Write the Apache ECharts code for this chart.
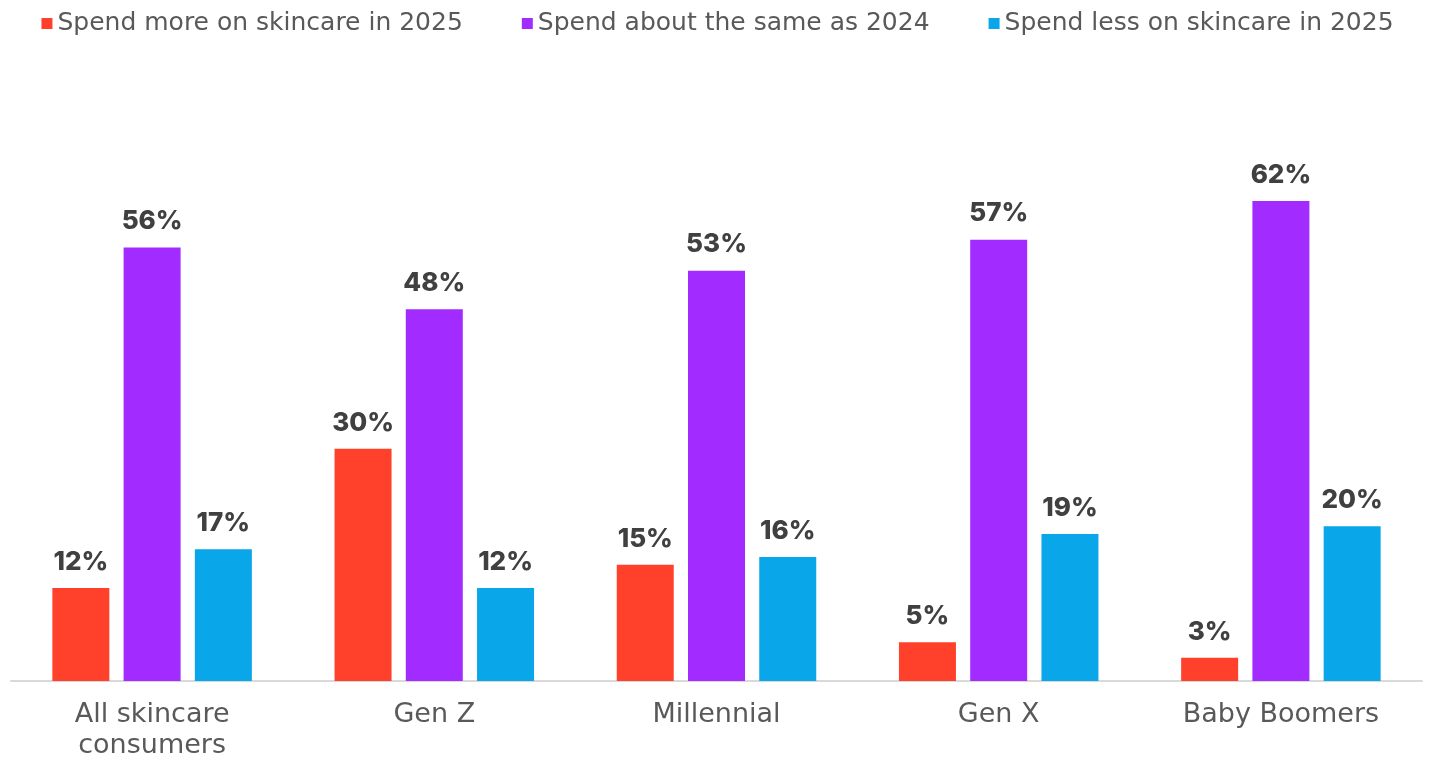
<!DOCTYPE html>
<html>
<head>
<meta charset="utf-8">
<script src="https://cdn.jsdelivr.net/npm/echarts@6/dist/echarts.min.js"></script>
<style>
  html, body { margin: 0; padding: 0; background: #ffffff; }
  #chart { width: 1435px; height: 758px; }
</style>
</head>
<body>
<div id="chart"></div>
<script>
// Age cohorts on the category axis
const categories = ['All skincare\nconsumers', 'Gen Z', 'Millennial', 'Gen X', 'Baby Boomers'];

// Share of consumers (%) by expected 2025 skincare spend
const spendMore = [12, 30, 15, 5, 3];
const spendSame = [56, 48, 53, 57, 62];
const spendLess = [17, 12, 16, 19, 20];

const seriesNames = [
  'Spend more on skincare in 2025',
  'Spend about the same as 2024',
  'Spend less on skincare in 2025'
];
const seriesColors = ['#FF412C', '#A22BFF', '#0AA6EA'];

const TEXT_FONT = '"DejaVu Sans", "Liberation Sans", sans-serif';
const VALUE_FONT = 'Inter, "Liberation Sans", sans-serif';

const chart = echarts.init(document.getElementById('chart'), null, { renderer: 'canvas' });

function barSeries(name, data, color) {
  return {
    name: name,
    type: 'bar',
    data: data,
    barWidth: 57,
    barGap: '25%',
    itemStyle: { color: color },
    label: {
      show: true,
      position: 'top',
      distance: 13,
      formatter: '{c}%',
      fontFamily: VALUE_FONT,
      fontSize: 26,
      fontWeight: 800,
      color: '#404040'
    }
  };
}

chart.setOption({
  animation: false,
  textStyle: { fontFamily: TEXT_FONT },
  legend: {
    top: 6,
    left: 'center',
    itemWidth: 11,
    itemHeight: 11,
    itemGap: 59,
    icon: 'rect',
    textStyle: { fontFamily: TEXT_FONT, fontSize: 25, color: '#595959' },
    data: seriesNames
  },
  grid: {
    left: 11, right: 13, top: 139, bottom: 77,
    containLabel: false,
    outerBoundsMode: 'none'
  },
  xAxis: {
    type: 'category',
    data: categories,
    axisTick: { show: false },
    axisLine: { lineStyle: { color: '#D9D9D9', width: 2 } },
    axisLabel: {
      fontFamily: TEXT_FONT,
      fontSize: 27,
      color: '#595959',
      margin: 18,
      lineHeight: 31
    }
  },
  yAxis: {
    type: 'value',
    min: 0,
    max: 70,
    show: false,
    splitLine: { show: false }
  },
  series: [
    barSeries(seriesNames[0], spendMore, seriesColors[0]),
    barSeries(seriesNames[1], spendSame, seriesColors[1]),
    barSeries(seriesNames[2], spendLess, seriesColors[2])
  ]
});
</script>
</body>
</html>
